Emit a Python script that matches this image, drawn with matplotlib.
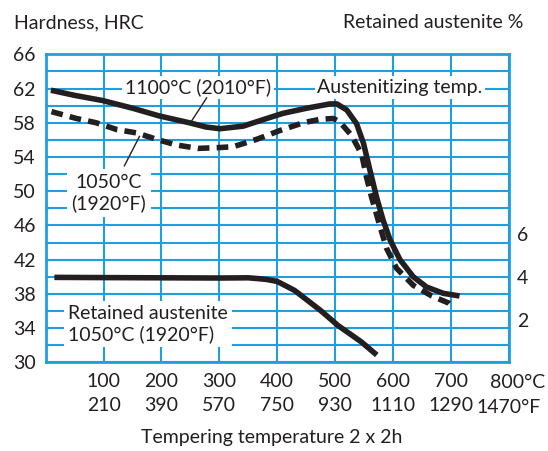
import matplotlib
matplotlib.use("Agg")
import matplotlib.pyplot as plt

plt.rcParams["font.family"] = ["Lato", "DejaVu Sans"]

GRID = "#1f9fe0"
INK = "#231f20"

# tempering temperature (deg C) vs hardness (HRC)
t_1100 = [9, 50, 98, 150, 196, 248, 277, 301, 341, 382, 410, 451, 491, 503,
          520, 537, 549, 560, 572, 583, 595, 612, 635, 658, 687, 715]
hrc_1100 = [61.8, 61.2, 60.6, 59.7, 58.8, 58.0, 57.5, 57.3, 57.6, 58.5, 59.1,
            59.7, 60.2, 60.2, 59.5, 57.9, 55.6, 52.5, 49.2, 46.6, 44.3, 42.0,
            40.0, 38.8, 38.06, 37.75]

t_1050 = [10, 53, 87, 123, 158, 192, 226, 263, 300, 324, 364, 405, 445, 474,
          497, 508, 528, 546, 554, 563, 577, 589, 606, 635, 667, 697, 705]
hrc_1050 = [59.3, 58.5, 58.0, 57.2, 56.8, 56.05, 55.4, 55.0, 55.1, 55.2, 56.05,
            57.1, 58.0, 58.4, 58.5, 58.1, 56.55, 54.3, 51.7, 49.3, 46.0, 43.3,
            41.0, 39.0, 37.75, 36.9, 36.4]

# retained austenite (%) after 1050 C
t_ra = [15, 100, 200, 300, 350, 380, 400, 430, 475, 505, 545, 572]
ra = [3.97, 3.96, 3.95, 3.94, 3.95, 3.88, 3.78, 3.36, 2.42, 1.72, 0.96, 0.34]

x_ticks = [100, 200, 300, 400, 500, 600, 700]
x_labels = ["100\n210", "200\n390", "300\n570", "400\n750", "500\n930",
            "600\n1110", "700\n1290"]
y_ticks = [30, 34, 38, 42, 46, 50, 54, 58, 62, 66]
ra_ticks = [2, 4, 6]

FS = 14

fig = plt.figure(figsize=(5.48, 4.51), dpi=100)
ax = fig.add_axes([0.0834, 0.1967, 0.845, 0.6829])
ax.set_xlim(0, 800)
ax.set_ylim(30, 66)
for s in ax.spines.values():
    s.set_color(GRID)
    s.set_linewidth(2)

ax.set_xticks(x_ticks)
ax.set_xticklabels(x_labels, fontsize=FS, color=INK, linespacing=1.5)
ax.set_yticks(y_ticks)
ax.set_yticklabels([str(v) for v in y_ticks], fontsize=FS, color=INK)
ax.set_yticks(range(30, 67, 2), minor=True)
ax.set_xticks(range(0, 801, 100), minor=True)
ax.grid(True, which="both", color=GRID, lw=1.5, zorder=0)
ax.set_axisbelow(True)
ax.tick_params(which="both", length=0)
ax.tick_params(axis="x", pad=7.5)
ax.tick_params(axis="y", pad=7)

ax2 = ax.twinx()
ax2.set_ylim(0, 14.4)
ax2.set_yticks(ra_ticks)
ax2.set_yticklabels([str(v) for v in ra_ticks], fontsize=FS, color=INK)
ax2.tick_params(length=0, pad=6)
for s in ax2.spines.values():
    s.set_visible(False)

lw = 4.0
ax.plot(t_1100, hrc_1100, color=INK, lw=lw, solid_capstyle="butt",
        solid_joinstyle="round", zorder=5)
ax.plot(t_1050, hrc_1050, color=INK, lw=lw, ls=(0, (2.1, 1.3)),
        dash_capstyle="butt", zorder=5)
ax2.plot(t_ra, ra, color=INK, lw=lw, solid_capstyle="butt",
         solid_joinstyle="round", zorder=5)

box = dict(facecolor="white", edgecolor="none", pad=2)
ax.text(263, 62.1, "1100°C (2010°F)", fontsize=FS, color=INK,
        ha="center", va="center", bbox=box, zorder=4)
ax.plot([278, 251], [60.9, 58.1], color=INK, lw=1, zorder=4)
ax.text(109, 49.8, "1050°C\n(1920°F)", fontsize=FS, color=INK,
        ha="center", va="center", linespacing=1.2, zorder=4,
        bbox=dict(facecolor="white", edgecolor="none", pad=3.5))
ax.plot([136, 162], [52.97, 56.4], color=INK, lw=1, zorder=4)
ax.text(612, 62.1, "Austenitizing temp.", fontsize=FS, color=INK,
        ha="center", va="center", bbox=box, zorder=4)
ax.text(39, 34.45, "Retained austenite\n1050°C (1920°F)", fontsize=FS,
        color=INK, ha="left", va="center", linespacing=1.2, zorder=4,
        bbox=dict(facecolor="white", edgecolor="none", pad=3))

# last x tick: Celsius label sits a bit to the right, Fahrenheit centred
fig.text(490 / 548, 1 - 388.3 / 451, "800°C", fontsize=FS, color=INK,
         ha="left", va="baseline")
ax.annotate("1470°F", xy=(800, 0), xycoords=("data", "axes fraction"),
            xytext=(0, -(413.3 - 362.3) * 0.72), textcoords="offset points",
            fontsize=FS, color=INK, ha="center", va="baseline")

fig.text(14 / 548, 1 - 23 / 451, "Hardness, HRC", fontsize=FS, color=INK,
         ha="left", va="center")
fig.text(523 / 548, 1 - 23 / 451, "Retained austenite %", fontsize=FS,
         color=INK, ha="right", va="center")
fig.text(272 / 548, 1 - 438 / 451, "Tempering temperature 2 x 2h",
         fontsize=FS, color=INK, ha="center", va="center")

fig.savefig("out.png", dpi=100)
